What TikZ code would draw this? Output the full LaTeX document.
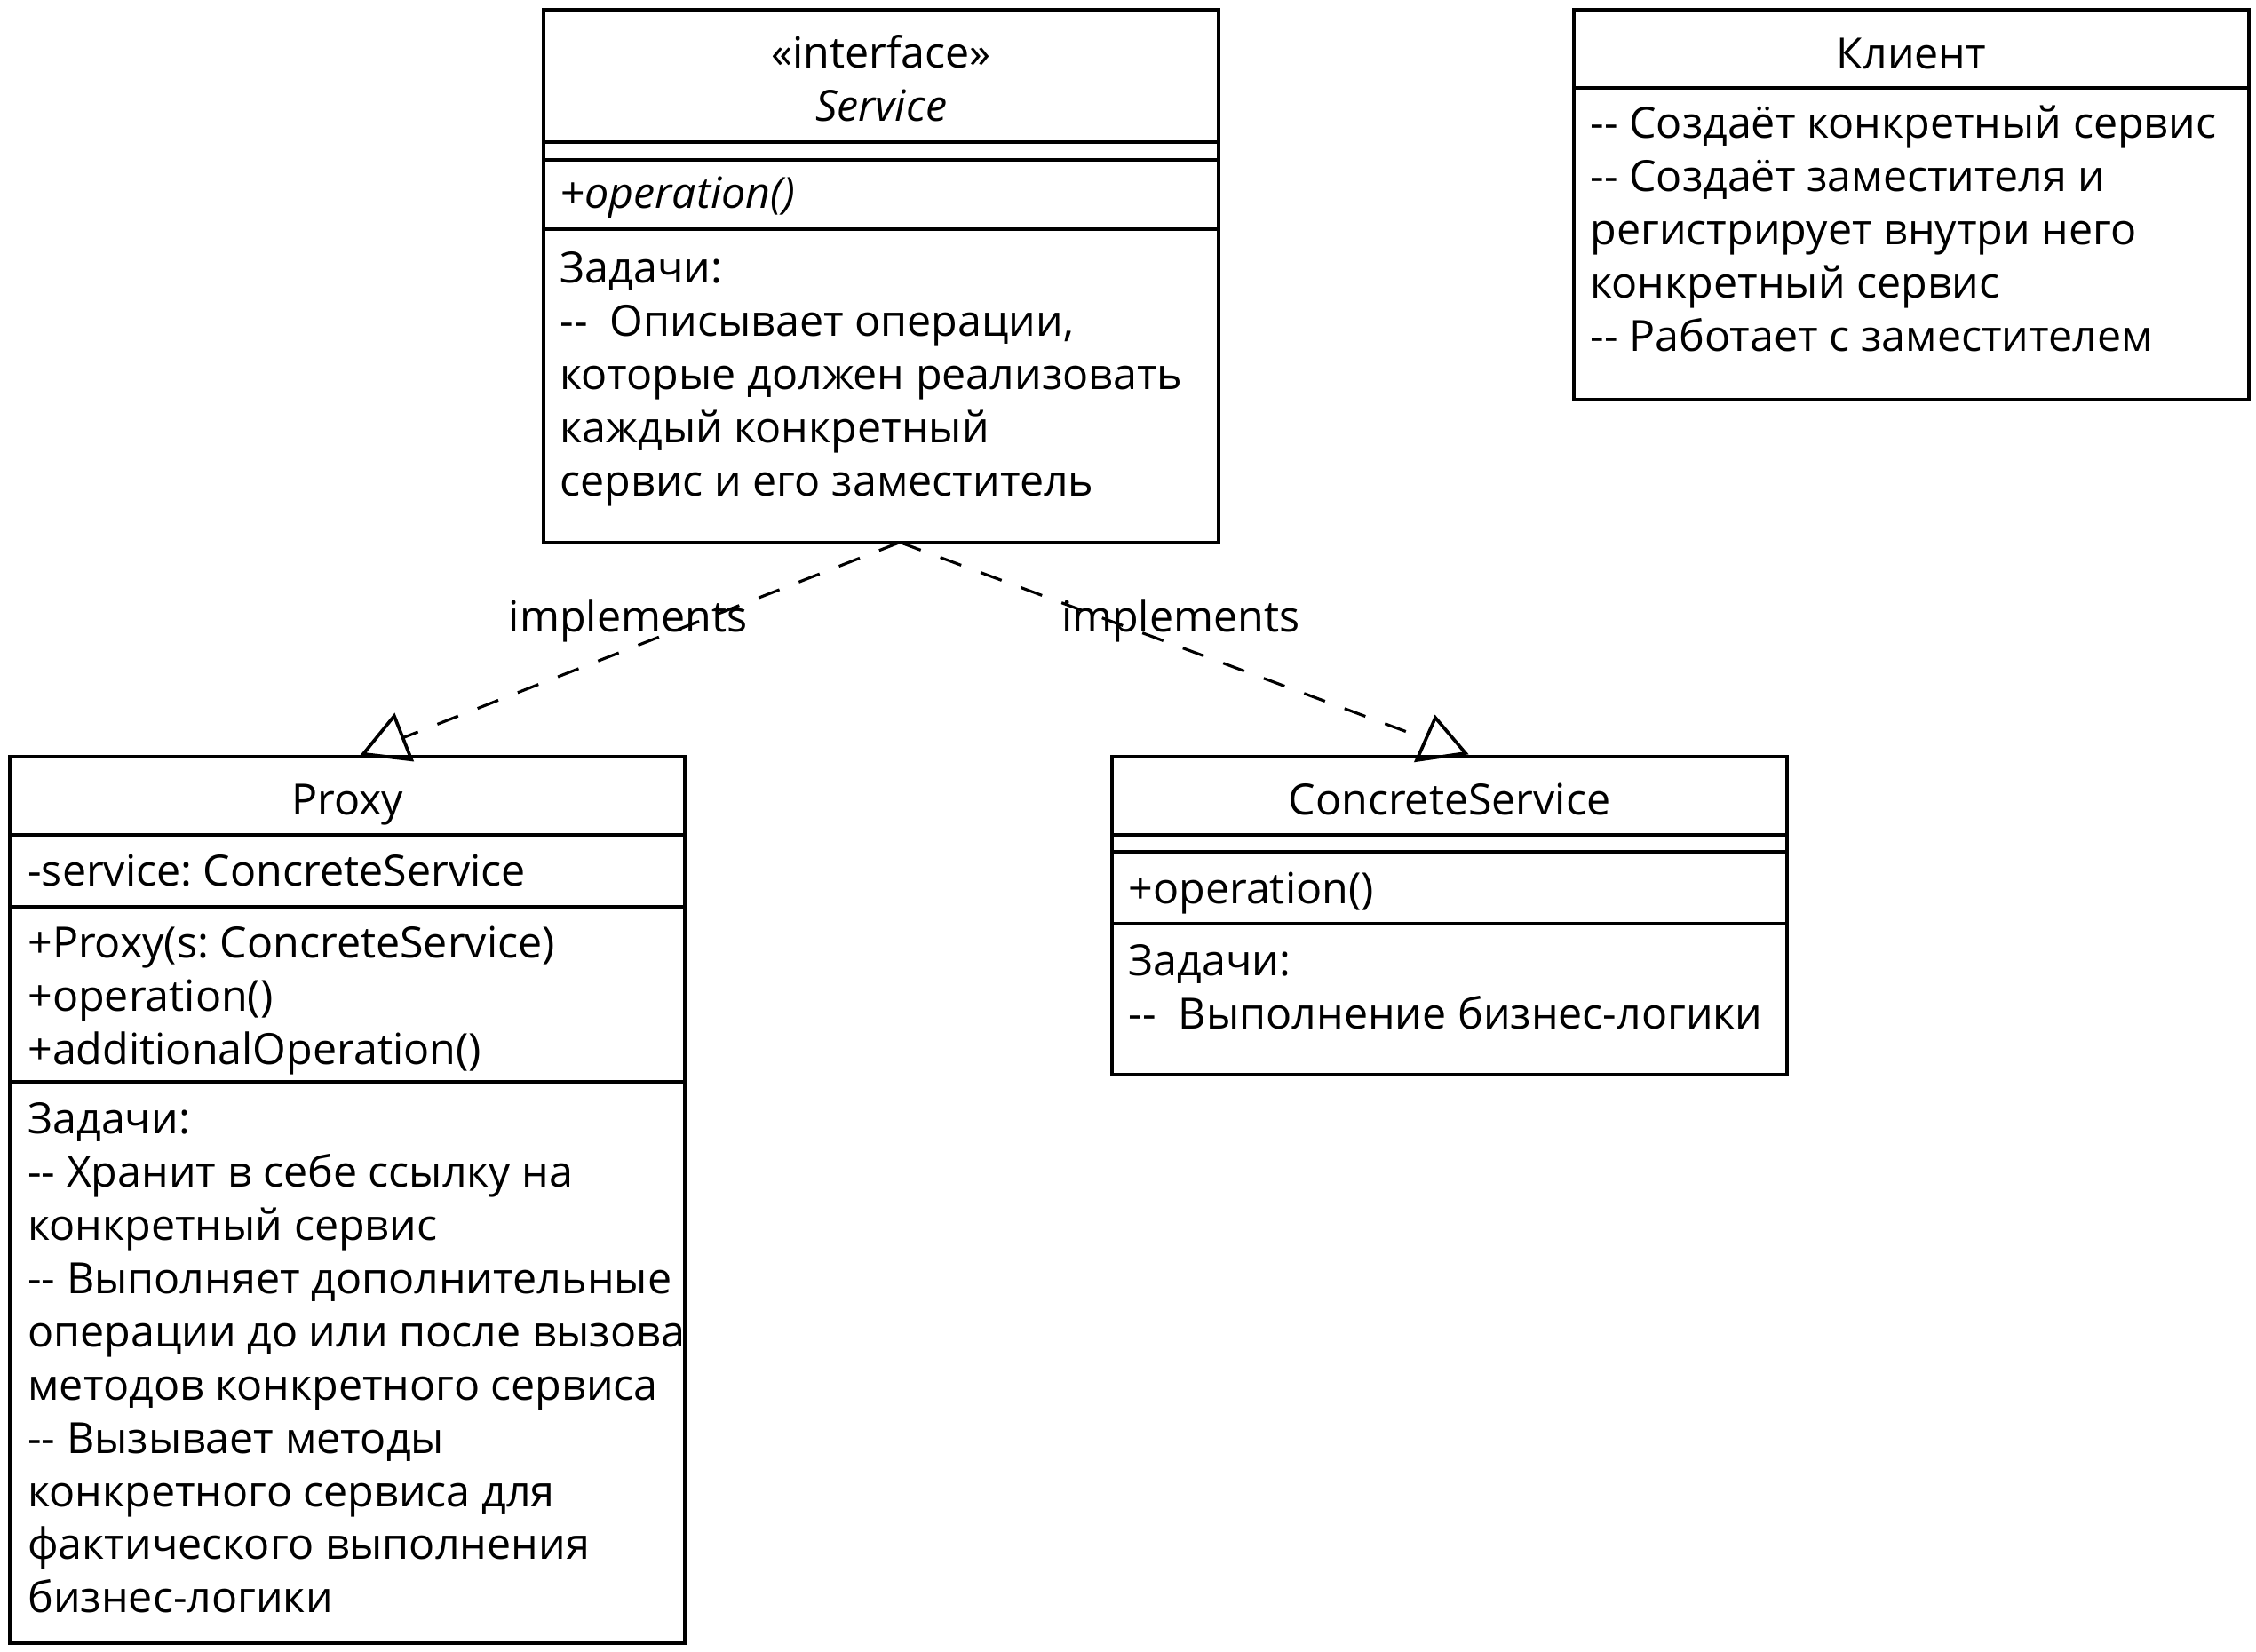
\documentclass[tikz,border=0pt]{standalone}
\usepackage{fontspec}
\setmainfont{Open Sans}[Ligatures=TeXOff]
\usepackage{tikz}
\usetikzlibrary{positioning}
\frenchspacing
\newcommand{\umlfont}{\fontsize{17}{21.06}\selectfont}
\tikzset{
    classbox/.style={draw, line width=1.4pt, inner sep=0pt, outer sep=0pt, anchor=north west, minimum width=9.38cm},
    classtitle/.style={inner sep=0pt, anchor=base, font=\umlfont},
    classtext/.style={inner sep=0pt, align=left, anchor=base west, font=\umlfont},
    compline/.style={line width=1.4pt},
    realize/.style={line width=1.1pt, dash pattern=on 0.31cm off 0.29cm},
    opentri/.style={line width=1.3pt, line join=miter}
}

\begin{document}
\begin{tikzpicture}[x=0.02cm, y=-0.02cm]
    \useasboundingbox (0,0) rectangle (1568,1148);
    % class frames
    \node[classbox, minimum height=7.4cm] (service) at (378,7) {};
    \node[classbox, minimum height=5.42cm] (client) at (1094,7) {};
    \node[classbox, minimum height=12.32cm] (proxy) at (7,526) {};
    \node[classbox, minimum height=4.42cm] (concrete) at (773,526) {};

    % Service (base of a text block = baseline of its last line)
    \node[classtitle] (servicestereo) at (service.north |- 0,47) {«interface»};
    \node[classtitle, font=\umlfont\itshape] (servicename) at (service.north |- 0,84) {Service};
    \draw[compline] (service.west |- 0,98.8) -- (service.east |- 0,98.8);
    \draw[compline] (service.west |- 0,111) -- (service.east |- 0,111);
    \node[classtext, font=\umlfont\itshape] (serviceops) at (389,145) {+operation()};
    \draw[compline] (service.west |- 0,159) -- (service.east |- 0,159);
    \node[classtext] (servicetasks) at (389,344.5) {Задачи:\\--\ \ Описывает операции,\\которые должен реализовать\\каждый конкретный\\сервис и его заместитель};

    % Client
    \node[classtitle] (clientname) at (client.north |- 0,48) {Клиент};
    \draw[compline] (client.west |- 0,61) -- (client.east |- 0,61);
    \node[classtext] (clienttasks) at (1105,244.3) {-- Создаёт конкретный сервис\\-- Создаёт заместителя и\\регистрирует внутри него\\конкретный сервис\\-- Работает с заместителем};

    % Proxy
    \node[classtitle] (proxyname) at (proxy.north |- 0,566.5) {Proxy};
    \draw[compline] (proxy.west |- 0,580) -- (proxy.east |- 0,580);
    \node[classtext] (proxyattr) at (19,616) {-service: ConcreteService};
    \draw[compline] (proxy.west |- 0,630) -- (proxy.east |- 0,630);
    \node[classtext] (proxyops) at (19,740) {+Proxy(s: ConcreteService)\\+operation()\\+additionalOperation()};
    \draw[compline] (proxy.west |- 0,752) -- (proxy.east |- 0,752);
    \node[classtext] (proxytasks) at (19,1121) {Задачи:\\-- Хранит в себе ссылку на\\конкретный сервис\\-- Выполняет дополнительные\\операции до или после вызова\\методов конкретного сервиса\\-- Вызывает методы\\конкретного сервиса для\\фактического выполнения\\бизнес-логики};

    % ConcreteService
    \node[classtitle] (concretename) at (concrete.north |- 0,566.5) {ConcreteService};
    \draw[compline] (concrete.west |- 0,580) -- (concrete.east |- 0,580);
    \draw[compline] (concrete.west |- 0,592) -- (concrete.east |- 0,592);
    \node[classtext] (concreteops) at (784,628) {+operation()};
    \draw[compline] (concrete.west |- 0,642) -- (concrete.east |- 0,642);
    \node[classtext] (concretetasks) at (784,715) {Задачи:\\--\ \ Выполнение бизнес-логики};

    % realizations
    \coordinate (servicefoot) at ([xshift=0.26cm]service.south);
    \coordinate (proxyhead) at (280,512.8);
    \coordinate (concretehead) at (991,513.6);
    \draw[realize] (servicefoot) -- (proxyhead);
    \draw[realize] (servicefoot) -- (concretehead);
    \draw[opentri] (274,497.6) -- (252.5,524) -- (286,528) -- cycle;
    \draw[opentri] (997.6,498.8) -- (984.6,528.4) -- (1018.6,523.5) -- cycle;
    \node[classtitle] (implproxy) at (436.5,439) {implements};
    \node[classtitle] (implconcrete) at (820.5,439) {implements};
\end{tikzpicture}
\end{document}
